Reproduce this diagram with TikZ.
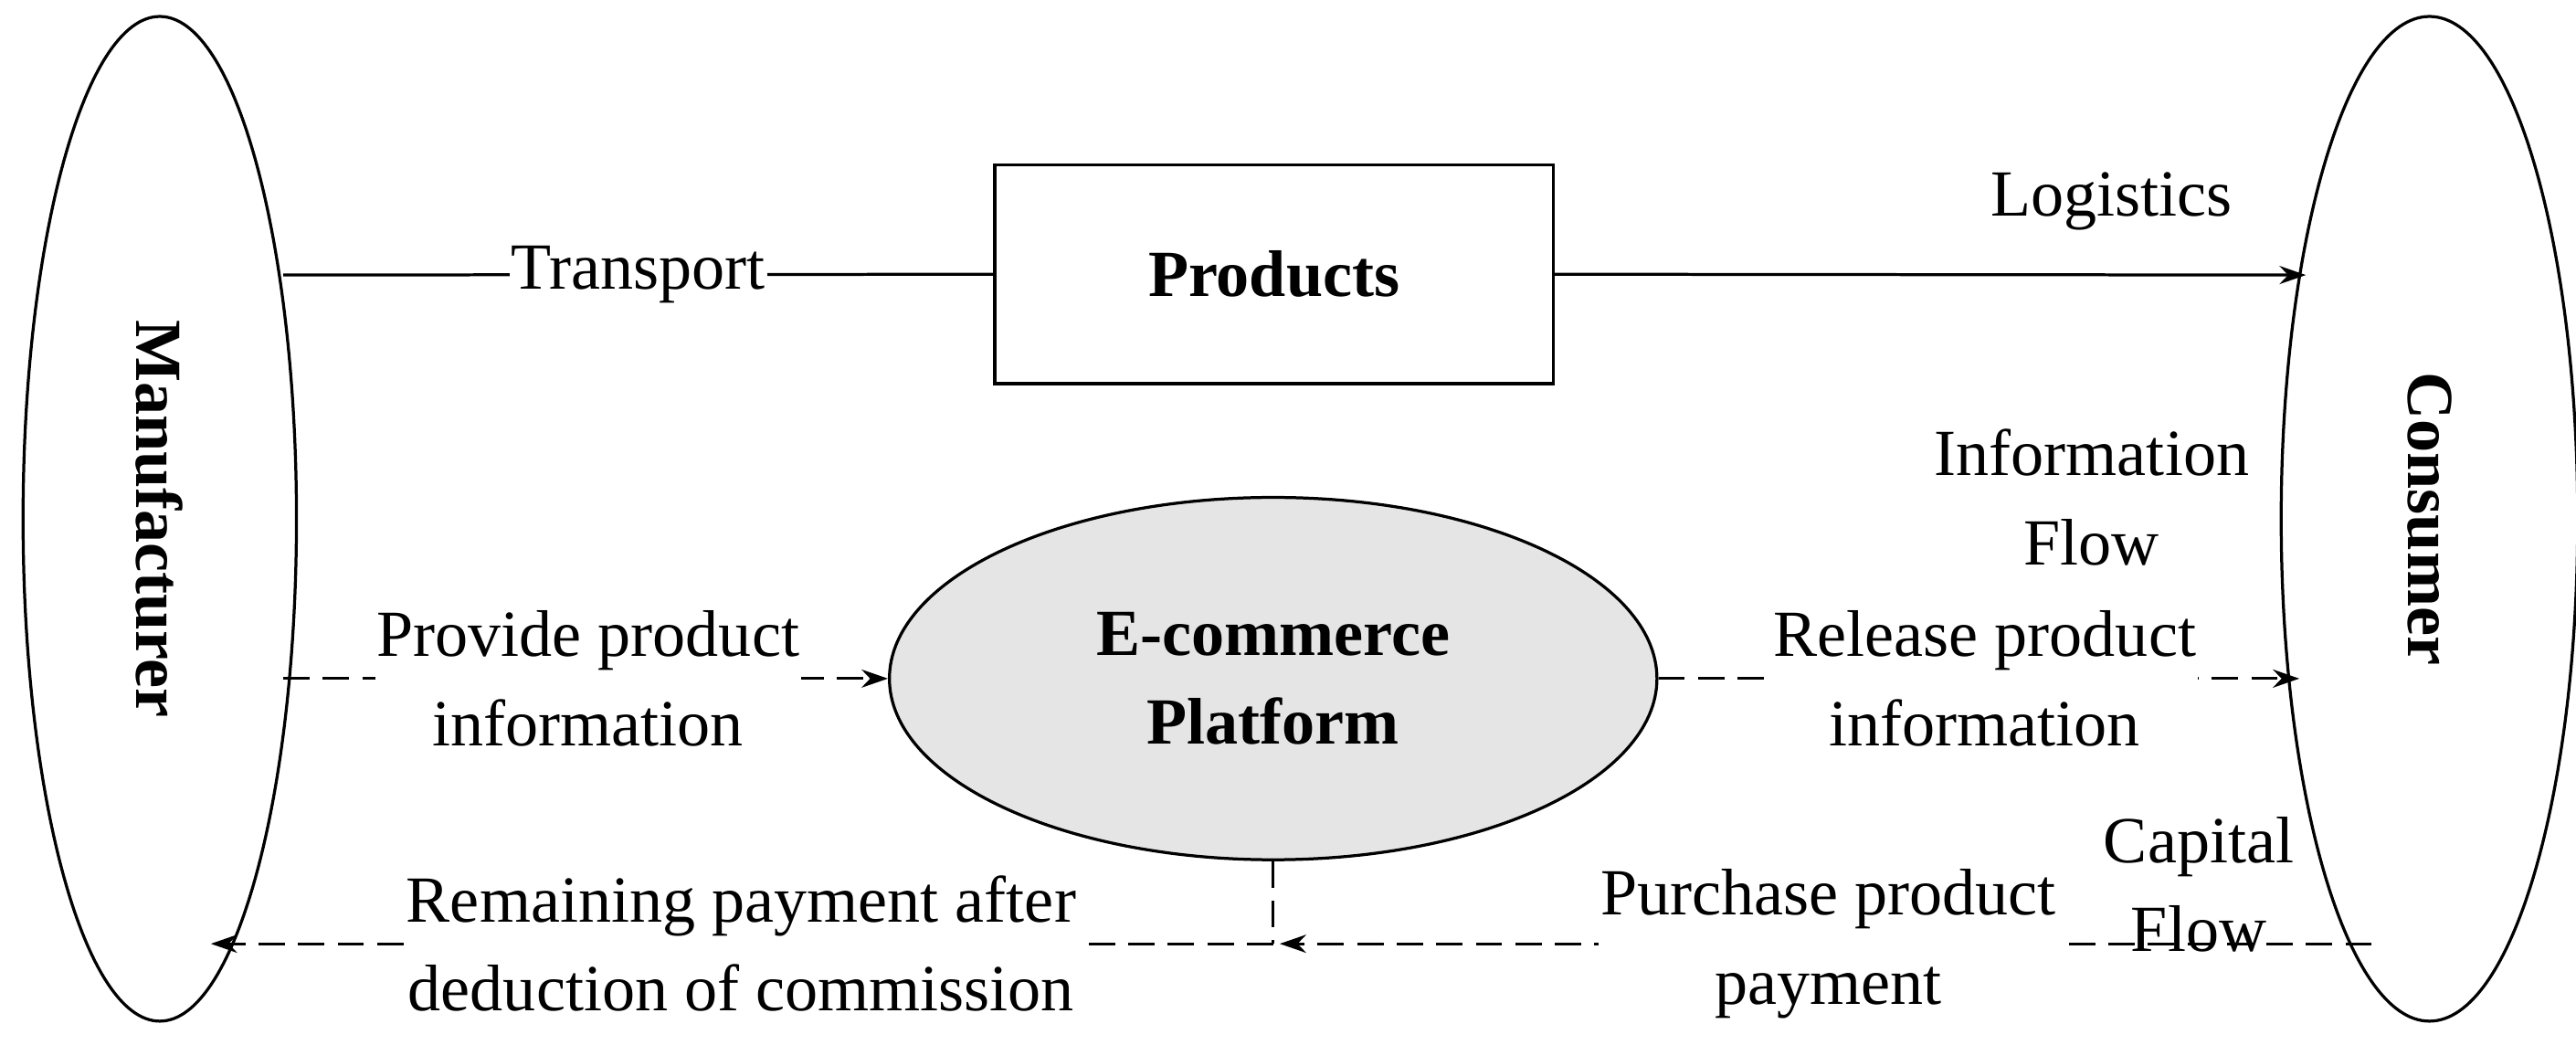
\documentclass[tikz,border=0pt]{standalone}
\usepackage{fontspec}
\setmainfont{Liberation Serif}
\usetikzlibrary{arrows.meta,shapes.geometric}
\begin{document}
\begin{tikzpicture}[x=1pt,y=-1pt,
  every node/.style={font=\fontsize{40}{54}\selectfont},
  lab/.style={fill=white,inner sep=1pt,align=center},
  ln/.style={line width=1.8pt},
  dsh/.style={ln,dash pattern=on 16pt off 8pt},
  arr/.style={-{Stealth[length=16pt,width=11pt]}}]
\useasboundingbox (0,0) rectangle (1564,634);
\node[ellipse,draw,ln,minimum width=166,minimum height=610] (M) at (97,315) {};
\node[rotate=-90,font=\fontsize{40}{54}\selectfont\bfseries] at (97,315) {Manufacturer};
\node[ellipse,draw,ln,minimum width=180,minimum height=610] (C) at (1475,315) {};
\node[rotate=-90,font=\fontsize{40}{54}\selectfont\bfseries] at (1475,315) {Consumer};
\node[draw,ln,minimum width=339,minimum height=133,font=\fontsize{40}{54}\selectfont\bfseries] (P) at (773.5,166.5) {Products};
\node[ellipse,draw,ln,fill=black!10,minimum width=466,minimum height=220,align=center,font=\fontsize{40}{54}\selectfont\bfseries] (E) at (773,412) {E-commerce\\Platform};
\coordinate (m1) at (172,167);
\coordinate (c1) at (1400,167);
\draw[ln] (m1) -- node[lab,pos=0.5]{Transport} (P.west);
\draw[ln,arr] (P.east) -- (c1);
\node at (1282,122) (lg) {Logistics};
\node[align=center] at (1270,302) (inf) {Information\\Flow};
\coordinate (m2) at (172,412);
\coordinate (c2) at (1396,412);
\draw[dsh,arr] (m2) -- (E.west);
\node[lab] at (357,412) (pp) {Provide product\\information};
\draw[dsh,arr] (E.east) -- (c2);
\node[lab] at (1205,412) (rp) {Release product\\information};
\coordinate (c3) at (1440,573);
\coordinate (j) at (773,573);
\coordinate (m3) at (128,573);
\draw[dsh,arr] (c3) -- (777,573);
\node[align=center] at (1335,537) (cf) {Capital\\Flow};
\node[lab] at (1110,573) (pu) {Purchase product\\payment};
\draw[dsh] (E.south) -- (j);
\draw[dsh,arr] (j) -- (m3);
\node[lab] at (450,573) (rem) {Remaining payment after\\deduction of commission};
\end{tikzpicture}
\end{document}
